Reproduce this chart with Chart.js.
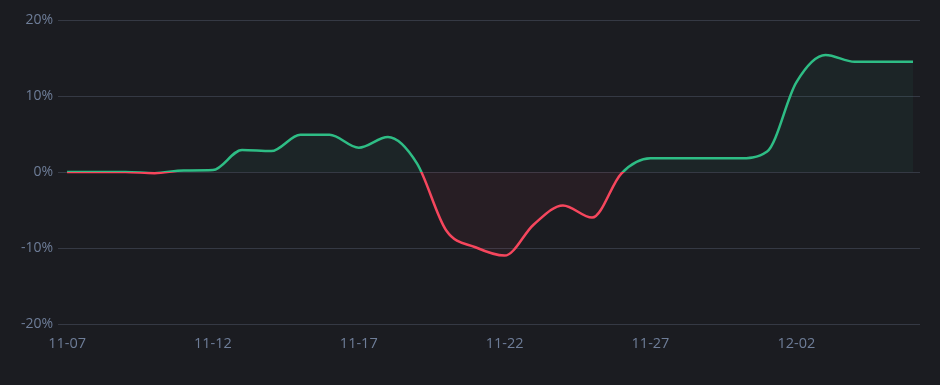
<!DOCTYPE html>
<html>
<head>
<meta charset="utf-8">
<script src="https://cdn.jsdelivr.net/npm/chart.js@4/dist/chart.umd.min.js"></script>
<style>
  html, body { margin: 0; padding: 0; background: #1b1c21; }
  #wrap { width: 940px; height: 385px; }
</style>
</head>
<body>
<div id="wrap"><canvas id="pnl"></canvas></div>
<script>
// daily labels 11-07 .. 12-06
const dates = ["11-07", "11-08", "11-09", "11-10", "11-11", "11-12", "11-13", "11-14", "11-15", "11-16",
  "11-17", "11-18", "11-19", "11-20", "11-21", "11-22", "11-23", "11-24", "11-25", "11-26",
  "11-27", "11-28", "11-29", "11-30", "12-01", "12-02", "12-03", "12-04", "12-05", "12-06"];
// cumulative return in %
const pnl = [0, 0, 0, -0.15, 0.2, 0.25, 2.9, 2.75, 4.9, 4.9,
  3.2, 4.6, 1.1, -7.7, -9.9, -11.0, -6.9, -4.4, -6.0, -0.2,
  1.8, 1.8, 1.8, 1.8, 2.7, 11.8, 15.4, 14.5, 14.5, 14.5];
const xTicks = [0, 5, 10, 15, 20, 25];
const yTicks = [-20, -10, 0, 10, 20];

const green = "#2ebd85";
const red = "#f6465d";

function lineColor(ctx) {
  const chart = ctx.chart;
  const area = chart.chartArea;
  if (!area) return green;
  const y0 = chart.scales.y.getPixelForValue(0);
  const f = Math.min(1, Math.max(0, (y0 - area.top) / (area.bottom - area.top)));
  const g = chart.ctx.createLinearGradient(0, area.top, 0, area.bottom);
  g.addColorStop(0, green);
  g.addColorStop(f, green);
  g.addColorStop(f, red);
  g.addColorStop(1, red);
  return g;
}

const canvas = document.querySelector("#pnl");

new Chart(canvas, {
  type: "line",
  data: {
    datasets: [{
      data: pnl.map((v, i) => ({ x: i, y: v })),
      borderColor: lineColor,
      borderWidth: 2.5,
      pointRadius: 0,
      cubicInterpolationMode: "monotone",
      fill: { target: { value: 0 }, above: "rgba(46,189,133,0.06)", below: "rgba(246,70,93,0.055)" }
    }]
  },
  options: {
    responsive: true,
    maintainAspectRatio: false,
    animation: false,
    layout: { padding: { top: 20, right: 20, left: 0, bottom: 0 } },
    plugins: { legend: { display: false }, tooltip: { enabled: false } },
    scales: {
      x: {
        type: "linear",
        min: -0.31,
        max: 29.24,
        grid: { display: false, drawTicks: false },
        border: { display: false },
        afterBuildTicks: s => { s.ticks = xTicks.map(v => ({ value: v })); },
        afterFit: s => { s.height = 61; },
        ticks: {
          color: "#6e7d98",
          font: { family: "'Open Sans'", size: 14.5 },
          padding: 11,
          maxRotation: 0,
          autoSkip: false,
          callback: v => dates[v]
        }
      },
      y: {
        min: -20,
        max: 20,
        grid: { color: "#353944", lineWidth: 1, drawTicks: false },
        border: { display: false },
        afterBuildTicks: s => { s.ticks = yTicks.map(v => ({ value: v })); },
        afterFit: s => { s.width = 58; },
        ticks: {
          color: "#6e7d98",
          font: { family: "'Open Sans'", size: 14 },
          padding: 5,
          callback: v => v + "%"
        }
      }
    }
  }
});
</script>
</body>
</html>
